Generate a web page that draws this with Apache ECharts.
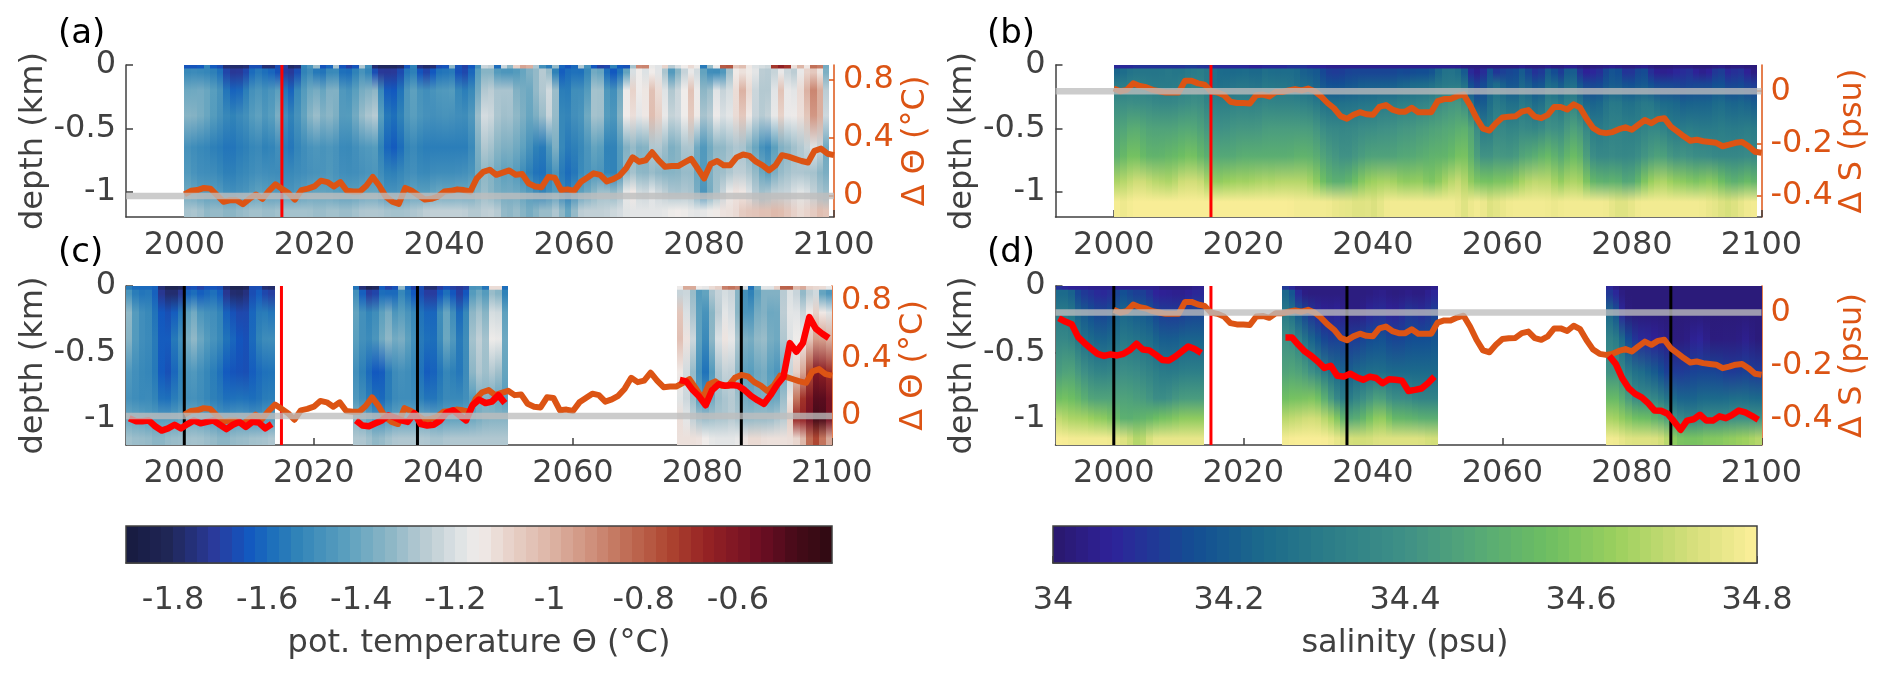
<!DOCTYPE html>
<html><head><meta charset="utf-8"><title>chart</title>
<script src="https://cdn.jsdelivr.net/npm/echarts@6/dist/echarts.min.js"></script>
<style>html,body{margin:0;background:#fff}#c{width:1892px;height:678px}</style></head>
<body><div id="c"></div>
<script>
// ---------- axis ticks ----------
const yearTicks=[2000,2020,2040,2060,2080,2100];
const depthTicks=[-1,-0.5,0];
const thetaTicks=[0,0.4,0.8];
const salTicks=[-0.4,-0.2,0];
const cbTempTicks=[-1.8,-1.6,-1.4,-1.2,-1,-0.8,-0.6];
const cbSalTicks=[34,34.2,34.4,34.6,34.8];
const scenarioYear=[2015];
const blackYears=[2000,2036,2086];
// depth (km) of each read-off row of the sections
const depthNodes=[0.012,0.06,0.2,0.4,0.65,0.85,1.0,1.15];
const depthNodesB=[0.012,0.06,0.15,0.3,0.5,0.72,0.92,1.08];

// ---------- delta series (2000..2100) ----------
const dTheta=[.01,.035,.04,.055,.05,.005,-.04,-.03,-.03,-.057,
-.02,.01,-.02,.035,.08,.05,.02,-.025,.04,.05,
.065,.105,.095,.065,.095,.035,.03,.03,.07,.13,
.07,-.005,-.04,-.055,.055,.035,.005,-.025,-.02,-.005,
.03,.035,.045,.04,.03,.12,.165,.18,.145,.16,
.175,.145,.15,.085,.065,.06,.13,.125,.04,.045,
.035,.095,.125,.155,.145,.1,.115,.14,.19,.265,
.235,.245,.3,.245,.2,.205,.205,.23,.255,.19,
.12,.22,.24,.21,.21,.265,.285,.275,.235,.21,
.175,.21,.28,.27,.255,.24,.23,.31,.325,.29,.28];
const dSal=[.01,0,.005,.03,.02,.015,.005,0,-.005,-.005,
-.005,.04,.04,.03,.025,0,-.005,-.015,-.04,-.045,
-.045,-.047,-.015,-.013,-.02,-.003,-.003,.003,.008,.003,
.01,0,-.02,-.045,-.065,-.095,-.105,-.09,-.08,-.088,
-.09,-.06,-.053,-.07,-.078,-.078,-.063,-.08,-.08,-.08,
-.038,-.03,-.03,-.019,-.012,-.053,-.103,-.143,-.15,-.122,
-.1,-.097,-.096,-.078,-.072,-.097,-.103,-.09,-.06,-.06,
-.07,-.05,-.063,-.105,-.14,-.156,-.16,-.156,-.145,-.138,
-.147,-.128,-.11,-.122,-.107,-.103,-.135,-.153,-.172,-.189,
-.185,-.191,-.194,-.197,-.21,-.204,-.197,-.194,-.21,-.231,-.235];
// red curves: values at half years, three time slices
const redStart=[1991.5,2026.5,2076.5];
const redThetaA=[-.015,-.035,-.035,-.03,-.07,-.1,-.085,-.06,-.085,-.055,-.03,-.05,-.04,-.03,-.06,-.09,-.06,-.04,-.075,-.04,-.045,-.085,-.055];
const redThetaB=[-.03,-.065,-.07,-.05,-.03,.005,-.01,-.03,-.04,.02,-.055,-.065,-.06,-.03,.025,.04,.005,-.03,.075,.115,.09,.1,.145,.09];
const redThetaC=[.25,.24,.18,.135,.075,.18,.22,.21,.215,.21,.18,.14,.11,.085,.145,.215,.27,.505,.445,.505,.685,.605,.57,.54];
const redSalA=[-.021,-.034,-.044,-.093,-.116,-.137,-.156,-.164,-.158,-.162,-.156,-.141,-.118,-.14,-.143,-.16,-.179,-.181,-.166,-.147,-.128,-.138,-.153];
const redSalB=[-.094,-.094,-.122,-.147,-.164,-.185,-.209,-.201,-.239,-.242,-.231,-.244,-.254,-.242,-.247,-.267,-.252,-.254,-.257,-.296,-.292,-.287,-.267,-.242];
const redSalC=[-.164,-.194,-.248,-.286,-.307,-.32,-.342,-.37,-.371,-.382,-.411,-.443,-.408,-.403,-.386,-.408,-.408,-.392,-.399,-.386,-.37,-.377,-.39,-.405];

// ---------- panel (a): -theta x100, 2000..2099 ----------
const tempA0=[165,165,165,150,165,165,178,178,178,178,165,165,178,178,165,170,180,180,150,150,
125,170,165,120,170,170,170,120,150,180,180,180,180,180,165,150,178,178,178,165,
170,125,170,170,165,150,120,120,170,115,140,105,95,95,130,150,160,125,165,165,
165,120,150,165,170,170,150,165,170,130,85,85,120,120,105,130,120,115,110,110,
165,130,120,75,75,110,100,115,120,120,130,65,65,65,120,95,120,80,80,145];
const tempA1=[152,150,152,152,155,155,172,172,172,170,158,155,160,160,165,172,172,170,150,148,
158,160,150,148,162,160,155,145,150,170,172,172,172,170,155,150,168,170,165,155,
160,150,170,168,165,140,135,130,150,145,148,145,142,135,135,125,125,160,165,158,
158,160,155,135,135,165,165,160,145,115,112,125,110,120,122,158,130,125,115,115,
148,150,150,150,130,110,112,115,115,130,125,128,110,125,130,115,108,105,105,145];
const tempA2=[140,140,138,140,145,145,160,162,162,155,148,145,150,150,135,162,165,150,145,140,
135,145,135,132,150,148,145,135,140,125,155,165,165,160,145,140,150,150,148,145,
148,140,155,155,155,138,125,125,130,130,125,140,135,145,130,130,118,125,165,155,
148,150,150,125,125,152,150,145,110,105,118,118,95,115,115,135,120,120,95,115,
140,135,110,130,120,115,90,112,125,128,128,125,90,125,118,112,100,85,90,135];
const tempA3=[135,135,138,140,145,148,152,155,150,150,145,140,148,148,128,155,155,148,142,135,
128,140,132,135,148,145,140,130,132,118,148,158,160,155,145,142,148,148,150,148,
148,148,150,150,150,130,118,122,130,132,128,135,135,145,135,135,118,128,160,152,
148,150,140,128,125,150,148,140,108,110,120,118,95,110,115,128,122,118,100,112,
135,130,108,125,118,112,100,115,125,128,125,120,100,122,115,112,108,88,92,130];
const tempA4=[148,150,152,152,155,155,158,158,155,155,152,150,155,155,145,158,158,152,150,148,
145,150,145,148,152,152,150,145,148,140,155,162,165,160,152,150,155,155,155,155,
155,155,155,155,155,135,125,130,135,138,135,140,142,148,155,158,150,125,160,155,
155,152,148,140,140,158,155,145,135,130,138,138,125,128,130,140,135,128,125,140,
150,138,132,135,130,128,128,135,140,148,155,142,135,135,130,128,125,118,118,145];
const tempA5=[145,148,150,150,150,152,155,155,152,152,150,148,150,150,150,152,152,150,150,148,
148,148,145,148,150,150,150,148,148,145,150,155,155,152,150,148,152,152,150,150,
150,150,150,148,150,138,132,135,140,145,140,145,150,155,158,160,155,140,160,160,
158,150,148,145,145,155,155,148,130,128,135,135,130,135,135,135,135,132,130,140,
150,135,130,132,128,125,125,128,132,140,148,135,132,130,128,128,130,128,135,138];
const tempA6=[140,142,145,145,145,145,150,150,148,148,145,142,145,145,145,148,148,145,145,142,
142,142,142,145,145,145,145,142,142,140,145,150,148,148,145,142,145,145,142,140,
142,142,140,142,140,135,130,135,138,140,138,140,142,145,150,155,150,140,155,158,
150,142,140,135,130,130,135,132,115,110,125,125,115,125,125,130,130,128,128,135,
155,135,130,125,115,112,112,120,128,132,130,125,125,125,120,118,120,125,130,132];
const tempA7=[130,128,130,135,132,132,135,135,132,132,130,130,132,132,130,130,130,130,130,130,
132,132,130,130,132,132,130,128,128,128,128,130,130,130,130,128,128,125,125,125,
125,125,125,125,128,128,125,125,125,135,135,130,135,140,135,130,135,125,132,148,
130,125,125,125,125,125,122,122,118,118,118,118,118,118,118,115,115,115,118,118,
118,115,115,112,112,112,105,105,105,102,105,100,102,105,108,112,108,108,100,105];

// ---------- panel (b): (salinity-34) x100, 2000..2099 ----------
const salB0=[8,8,8,10,10,10,10,10,10,10,10,12,12,10,10,8,8,8,8,8,8,6,6,8,8,8,8,10,10,10,8,8,6,5,5,5,5,5,5,5,
5,5,5,5,5,5,5,5,5,5,5,5,5,5,3,3,3,3,3,3,3,3,3,5,3,3,3,5,3,3,5,5,3,2,3,3,4,5,4,3,3,4,5,3,2,2,2,3,3,3,2,2,2,3,4,2,3,3,2,2];
const salB1=[22,25,28,28,28,28,28,28,30,28,28,30,30,32,30,25,24,24,24,24,25,24,22,28,24,25,25,25,25,20,20,20,14,12,12,12,14,14,14,14,
14,14,14,14,16,14,16,16,16,16,24,28,28,26,22,5,5,5,25,5,15,15,12,25,12,10,8,25,15,8,22,24,8,5,8,8,15,18,18,8,10,15,18,8,5,5,5,8,8,12,5,5,5,12,15,5,10,12,5,3];
const salB2=[30,30,32,32,32,30,30,30,30,30,32,32,34,34,30,26,26,26,28,28,28,28,26,30,28,28,28,28,26,24,24,22,18,16,16,16,18,18,20,20,
20,20,20,20,22,22,24,24,24,26,28,30,30,30,30,12,12,14,22,26,20,18,16,26,20,16,15,28,24,16,26,28,16,14,14,14,18,20,20,16,16,18,20,16,14,14,14,14,12,14,14,14,14,16,18,12,14,16,12,12];
const salB3=[38,38,40,38,38,38,36,36,36,36,38,38,40,40,34,32,32,32,33,34,33,33,33,36,34,34,34,34,34,33,32,30,26,26,26,26,27,27,28,28,
28,30,30,30,32,32,32,34,34,36,38,40,42,42,42,25,18,18,26,32,28,26,24,32,28,24,24,36,32,26,34,36,28,22,22,22,28,30,30,26,26,28,30,30,26,24,24,24,20,22,22,22,22,24,26,22,22,24,22,20];
const salB4=[45,46,50,50,48,46,46,46,46,46,48,48,48,46,42,40,40,40,42,42,42,42,42,44,44,44,44,44,44,44,44,42,38,36,36,35,36,36,38,38,
38,40,40,40,42,42,42,44,44,46,46,48,48,50,52,48,38,28,30,38,36,34,34,38,36,34,36,42,40,36,44,46,44,36,30,30,32,34,34,32,32,32,34,36,36,34,30,30,30,32,30,30,30,30,32,30,30,30,32,30];
const salB5=[50,54,58,58,54,52,52,52,54,54,56,58,58,54,50,48,48,48,48,50,50,50,50,50,50,50,50,50,52,52,52,50,46,44,42,40,40,42,44,46,
46,46,46,46,48,48,48,50,50,52,52,52,54,58,60,52,44,40,40,44,42,42,42,48,48,50,52,56,52,46,54,56,54,44,38,36,36,38,36,36,36,38,42,44,46,46,42,40,42,40,38,38,38,36,36,36,36,36,38,36];
const salB6=[66,68,70,72,72,70,68,68,66,68,72,72,72,72,66,62,62,64,64,66,64,66,66,68,66,68,68,68,68,68,66,62,56,52,50,50,52,56,60,64,
64,66,66,66,62,62,62,64,60,58,62,66,68,72,68,62,58,58,56,60,58,60,62,66,68,70,68,70,66,60,68,66,68,58,52,52,50,52,52,46,48,52,60,64,66,68,64,62,62,60,58,60,62,60,56,52,50,52,56,52];
const salB7=[79,76,79,79,79,79,79,79,79,79,79,79,79,79,79,79,79,79,79,79,79,79,79,79,79,79,79,79,78,78,78,78,78,78,76,76,76,74,74,76,
72,76,78,78,78,78,78,78,78,78,78,78,78,78,72,78,78,78,72,76,76,78,78,78,78,78,78,78,76,78,78,78,78,78,78,78,78,76,74,74,76,78,78,78,78,78,78,78,78,78,78,78,76,76,74,72,74,76,78,78];

// ---------- panel (c): -theta x100, three slices ----------
const tempC1a=[155,160,160,160,160,178,182,182,182,165,165,170,165,165,165,178,182,182,182,165,165,178,178];
const tempC1b=[145,158,158,155,160,175,178,178,175,158,158,165,160,158,160,175,178,178,178,165,160,170,170];
const tempC1c=[130,148,150,150,158,165,168,162,160,140,135,150,148,150,150,165,165,168,170,160,155,155,158];
const tempC1d=[132,148,150,150,155,165,165,155,152,135,130,142,145,148,150,160,160,165,168,160,152,150,150];
const tempC1e=[145,150,152,152,155,165,168,160,155,145,145,150,152,155,158,165,165,165,168,162,160,158,158];
const tempC1f=[148,150,152,150,152,160,160,155,152,148,148,150,152,155,155,160,158,158,158,160,158,155,155];
const tempC1g=[140,142,142,145,145,145,145,145,142,140,140,142,142,145,148,148,145,145,145,148,148,145,145];
const tempC1h=[130,132,132,132,135,135,132,132,132,130,130,130,132,132,135,135,132,132,132,130,130,130,128];
const tempC2a=[155,178,182,182,160,170,170,125,165,170,165,178,178,170,165,170,172,172,145,145,165,105,105,165];
const tempC2b=[145,165,172,172,155,160,165,145,160,165,165,172,172,165,155,165,172,170,140,135,155,125,130,160];
const tempC2c=[140,150,155,150,145,130,155,138,150,150,160,160,165,150,135,150,165,155,130,125,145,115,115,150];
const tempC2d=[142,150,152,148,140,128,145,132,145,148,158,158,162,152,135,145,160,155,125,120,140,110,108,148];
const tempC2e=[148,155,160,165,165,155,150,148,150,152,158,165,162,158,150,155,158,155,130,125,135,125,128,145];
const tempC2f=[145,150,155,160,162,155,150,150,150,150,155,158,158,155,150,152,152,150,145,135,135,138,140,145];
const tempC2g=[135,138,142,148,150,145,142,142,142,142,140,140,142,145,142,142,142,142,140,138,135,135,135,135];
const tempC2h=[128,128,130,135,132,130,128,128,128,128,128,128,130,130,128,128,128,128,128,128,128,128,128,128];
const tempC3a=[118,95,95,118,118,110,110,85,85,85,120,165,140,115,120,110,78,78,105,95,110,110,110,118];
const tempC3b=[125,120,130,150,145,125,125,120,120,135,150,160,140,135,135,140,125,118,120,140,125,112,150,145];
const tempC3c=[100,125,125,145,155,130,128,115,118,135,150,150,135,135,140,145,122,118,115,130,112,105,115,120];
const tempC3d=[100,115,118,145,160,130,120,110,115,130,138,140,132,130,138,145,125,120,112,120,105,90,95,100];
const tempC3e=[112,122,130,150,165,145,125,125,122,135,145,145,140,135,145,150,140,125,105,100,75,55,65,70];
const tempC3f=[118,122,130,145,150,138,130,130,125,130,140,140,138,135,142,142,132,118,80,70,62,48,50,60];
const tempC3g=[110,118,125,130,132,130,128,130,125,128,135,132,132,132,132,128,128,120,48,75,55,45,46,60];
const tempC3h=[112,112,112,112,115,118,118,118,118,118,112,110,110,112,112,112,112,112,110,105,80,70,85,100];

// ---------- panel (d): (salinity-34) x100, three slices ----------
const salD1a=[10,8,6,6,6,5,5,5,5,5,5,5,5,5,5,5,3,3,3,3,3,5,5];
const salD1b=[24,24,24,12,12,10,8,8,8,14,18,14,12,14,10,6,6,6,5,5,6,8,8];
const salD1c=[30,30,30,20,20,16,14,14,14,22,24,22,20,20,18,14,12,12,12,12,14,14,14];
const salD1d=[36,36,36,28,26,24,22,22,22,28,30,28,28,26,26,22,20,20,20,22,22,22,22];
const salD1e=[44,46,48,42,40,36,34,34,34,38,40,38,38,36,34,32,30,30,30,32,32,32,32];
const salD1f=[56,58,56,54,50,46,46,46,46,46,46,46,44,44,42,38,38,40,42,44,44,44,44];
const salD1g=[70,68,66,66,66,64,62,62,60,54,50,50,52,52,54,56,58,58,60,62,62,62,62];
const salD1h=[79,79,78,78,78,78,78,78,78,76,74,72,66,68,74,76,76,76,76,76,76,76,76];
const salD2a=[12,8,3,3,3,3,3,3,3,3,3,3,3,3,3,3,3,3,3,3,3,3,3,5];
const salD2b=[24,20,6,3,3,3,3,3,3,3,3,3,3,3,4,5,3,3,3,5,3,3,5,8];
const salD2c=[30,28,18,14,10,8,6,5,8,4,3,3,4,8,8,10,6,6,8,12,10,8,10,14];
const salD2d=[40,40,32,28,22,18,14,12,14,12,12,12,14,16,16,18,14,14,14,16,16,16,16,18];
const salD2e=[46,48,46,44,40,36,30,26,24,22,20,24,24,26,26,26,24,24,24,24,24,24,24,24];
const salD2f=[56,58,58,58,60,58,50,44,36,30,30,36,38,42,46,46,40,38,38,38,34,34,34,34];
const salD2g=[68,70,70,72,72,72,68,66,60,52,46,50,52,58,62,64,58,52,54,52,52,50,50,50];
const salD2h=[78,79,79,79,79,79,79,78,76,74,72,72,72,72,74,74,74,74,74,74,74,74,72,72];
const salD3a=[8,4,2,2,2,2,2,2,2,2,2,2,2,2,2,2,2,2,2,2,2,2,2,2];
const salD3b=[12,8,2,2,2,2,2,2,2,2,2,2,2,2,2,2,2,2,2,2,2,2,2,2];
const salD3c=[24,20,5,2,2,2,2,2,2,2,2,2,2,2,2,2,2,2,2,2,2,2,2,2];
const salD3d=[34,32,24,14,10,8,8,6,5,4,2,3,3,6,8,4,2,3,3,3,3,6,3,2];
const salD3e=[40,42,36,30,26,26,22,20,16,12,12,12,12,14,14,14,14,14,12,12,12,14,12,12];
const salD3f=[54,56,50,44,38,36,38,36,32,28,24,22,22,22,24,24,24,24,24,26,26,26,24,24];
const salD3g=[66,66,62,60,56,56,56,52,50,46,40,36,34,34,36,38,38,38,38,40,40,40,40,40];
const salD3h=[78,78,76,74,74,74,74,74,72,70,60,58,58,58,58,60,60,60,62,62,64,64,66,68];
const sliceStart=[1991,2026,2076];

// ---------- colour maps ----------
const balanceStops=[[0,'#171a3f'],[.06,'#1f2656'],[.126,'#2a3a9c'],[.172,'#1257bf'],[.207,'#1d6fbb'],[.24,'#2f82b8'],[.31,'#5a9fbe'],[.37,'#8ab5c5'],[.427,'#bccdd4'],[.473,'#dfe3e5'],[.5,'#f0ecea'],[.54,'#e8d4cc'],[.6,'#ddb5a6'],[.66,'#cf8f7b'],[.715,'#be6a52'],[.77,'#ad4430'],[.82,'#972324'],[.9,'#6c0d23'],[.95,'#450b18'],[1,'#2e0a12']];
const halineStops=[[0,'#2a186c'],[.083,'#2e2299'],[.2,'#134e93'],[.3,'#1c6a8b'],[.4,'#2d7f88'],[.5,'#3f9086'],[.6,'#55a877'],[.7,'#6dbe62'],[.8,'#9bd05e'],[.9,'#d2de79'],[1,'#fdef9a']];
const hex=h=>[1,3,5].map(i=>parseInt(h.substr(i,2),16));
function cmap(stops,t){t=Math.max(0,Math.min(1,t));
  for(let i=1;i<stops.length;i++){if(t<=stops[i][0]){const a=stops[i-1],b=stops[i],f=(t-a[0])/(b[0]-a[0]),A=hex(a[1]),B=hex(b[1]);
    return 'rgb('+A.map((v,k)=>Math.round(v+(B[k]-v)*f)).join(',')+')';}}
  return stops[stops.length-1][1];}
const tempColor=v=>cmap(balanceStops,(v+1.9)/1.5);
const salColor=v=>cmap(halineStops,(v-34)/0.8);
const decT=v=>-v/100, decS=v=>34+v/100;

// ---------- helpers ----------
const ORANGE='#dc5414',INK='#404040',FONT='DejaVu Sans',FS=32;
// the source picture is a resampled raster: neighbouring years bleed into each other on screen
function columns(rows,start,step,dec,colorFn){
  const out=[];const n=rows[0].length;
  for(let i=0;i<n;i++){
    const vals=rows.map((r,k)=>{const p=r[Math.max(i-1,0)],q=r[i],s=r[Math.min(i+1,n-1)];
      const w=k===0?0.1:0.2;return colorFn(dec(q*(1-2*w)+(p+s)*w));});
    out.push({x0:start+i*step,x1:start+(i+1)*step,vals});}
  return out;}
function heatSeries(cols,gi,nodes){
  return {type:'custom',coordinateSystem:'cartesian2d',xAxisIndex:gi,yAxisIndex:gi*2,silent:true,z:1,clip:true,
    encode:{x:[0,1],y:2},data:cols.map(c=>[c.x0,c.x1,-0.6]),
    renderItem:(p,api)=>{const c=cols[p.dataIndex];
      const a=api.coord([c.x0,0]),b=api.coord([c.x1,-1.2]);
      const H=1.2;const stops=[{offset:0,color:c.vals[0]},{offset:.025/H,color:c.vals[0]},{offset:.03/H,color:c.vals[1]}];
      for(let k=1;k<nodes.length;k++)stops.push({offset:nodes[k]/H,color:c.vals[k]});
      stops.push({offset:1,color:c.vals[c.vals.length-1]});
      const x=Math.round(a[0]),w=Math.round(b[0])-x;
      return {type:'rect',shape:{x,y:a[1],width:w,height:b[1]-a[1]},
        style:{fill:new echarts.graphic.LinearGradient(0,0,0,1,stops)}};}};
}
const line=(data,gi,right,color,width,z,extra)=>Object.assign({type:'line',xAxisIndex:gi,yAxisIndex:gi*2+(right?1:0),data,showSymbol:false,symbol:'none',silent:true,z,
  lineStyle:{color,width,join:'round',cap:'butt'},animation:false},extra||{});
const pairs=(start,vals)=>vals.map((v,i)=>[start+i,v]);
const grids=[
 {left:126,top:65,width:708,height:152},
 {left:1055.5,top:65,width:706,height:152},
 {left:126,top:286,width:706,height:159},
 {left:1055.5,top:286,width:706,height:159},
 {left:126,top:526,width:706,height:37},
 {left:1053,top:526,width:704,height:37}];
const xAxes=[],yAxes=[];
const rightCfg=[
 {min:-.145,max:.9,ticks:thetaTicks,name:'\u0394 \u0398 (\u00b0C)',gap:66},
 {min:-.48,max:.1,ticks:salTicks,name:'\u0394 S (psu)',gap:75},
 {min:-.2,max:.9,ticks:thetaTicks,name:'\u0394 \u0398 (\u00b0C)',gap:66},
 {min:-.5,max:.1,ticks:salTicks,name:'\u0394 S (psu)',gap:75}];
for(let g=0;g<4;g++){
  xAxes.push({type:'value',gridIndex:g,min:1991,max:2100,position:'bottom',splitLine:{show:false},
    axisLine:{onZero:false,lineStyle:{color:INK,width:1.5}},
    axisTick:{inside:true,length:7,customValues:yearTicks,lineStyle:{color:INK,width:1.5}},
    axisLabel:{customValues:yearTicks,formatter:v=>String(v),color:INK,fontFamily:FONT,fontSize:FS,margin:13}});
  yAxes.push({type:'value',gridIndex:g,min:-1.2,max:0,position:'left',splitLine:{show:false},
    name:'depth (km)',nameLocation:'middle',nameRotate:90,nameGap:76,nameTextStyle:{color:INK,fontFamily:FONT,fontSize:FS},
    axisLine:{show:true,onZero:false,lineStyle:{color:INK,width:1.5}},
    axisTick:{show:true,inside:true,length:7,customValues:depthTicks,lineStyle:{color:INK,width:1.5}},
    axisLabel:{customValues:depthTicks,formatter:v=>String(v),color:INK,fontFamily:FONT,fontSize:FS,margin:10}});
  const r=rightCfg[g];
  yAxes.push({type:'value',gridIndex:g,min:r.min,max:r.max,position:'right',splitLine:{show:false},alignTicks:false,
    name:r.name,nameLocation:'middle',nameRotate:90,nameGap:r.gap,nameTextStyle:{color:ORANGE,fontFamily:FONT,fontSize:FS},
    axisLine:{show:true,onZero:false,lineStyle:{color:ORANGE,width:1.5}},
    axisTick:{show:true,inside:true,length:7,customValues:r.ticks,lineStyle:{color:ORANGE,width:1.5}},
    axisLabel:{customValues:r.ticks,formatter:v=>String(v),color:ORANGE,fontFamily:FONT,fontSize:FS,margin:9}});
}
const cbAxis=(g,min,max,ticks,name)=>({type:'value',gridIndex:g,min,max,position:'bottom',splitLine:{show:false},
  name,nameLocation:'middle',nameGap:65,nameTextStyle:{color:INK,fontFamily:FONT,fontSize:FS},
  axisLine:{onZero:false,lineStyle:{color:INK,width:1.5}},
  axisTick:{inside:true,length:7,customValues:ticks,lineStyle:{color:INK,width:1.5}},
  axisLabel:{customValues:ticks,formatter:v=>String(v),color:INK,fontFamily:FONT,fontSize:FS,margin:22}});
xAxes.push(cbAxis(4,-1.9,-0.4,cbTempTicks,'pot. temperature \u0398 (\u00b0C)'));
xAxes.push(cbAxis(5,34,34.8,cbSalTicks,'salinity (psu)'));
yAxes.push({type:'value',gridIndex:4,min:0,max:1,show:false});
yAxes.push({type:'value',gridIndex:5,min:0,max:1,show:false});

function cbSeries(g,min,max,n,colorFn,xi,yi){
  const cells=[];for(let i=0;i<n;i++)cells.push([min+(max-min)*i/n,min+(max-min)*(i+1)/n,0.5]);
  return {type:'custom',coordinateSystem:'cartesian2d',xAxisIndex:xi,yAxisIndex:yi,silent:true,z:1,encode:{x:[0,1],y:2},data:cells,
   renderItem:(p,api)=>{const a=api.coord([api.value(0),1]),b=api.coord([api.value(1),0]);const x=Math.round(a[0]);
    return {type:'rect',shape:{x,y:a[1],width:Math.round(b[0])-x,height:b[1]-a[1]},style:{fill:colorFn((api.value(0)+api.value(1))/2)}};}};
}
const series=[];
series.push(heatSeries(columns([tempA0,tempA1,tempA2,tempA3,tempA4,tempA5,tempA6,tempA7],2000,.993,decT,tempColor),0,depthNodes));
series.push(heatSeries(columns([salB0,salB1,salB2,salB3,salB4,salB5,salB6,salB7],2000,.993,decS,salColor),1,depthNodesB));
const cRows=[[tempC1a,tempC1b,tempC1c,tempC1d,tempC1e,tempC1f,tempC1g,tempC1h],[tempC2a,tempC2b,tempC2c,tempC2d,tempC2e,tempC2f,tempC2g,tempC2h],[tempC3a,tempC3b,tempC3c,tempC3d,tempC3e,tempC3f,tempC3g,tempC3h]];
const dRows=[[salD1a,salD1b,salD1c,salD1d,salD1e,salD1f,salD1g,salD1h],[salD2a,salD2b,salD2c,salD2d,salD2e,salD2f,salD2g,salD2h],[salD3a,salD3b,salD3c,salD3d,salD3e,salD3f,salD3g,salD3h]];
cRows.forEach((r,i)=>series.push(heatSeries(columns(r,sliceStart[i],1,decT,tempColor),2,depthNodes)));
dRows.forEach((r,i)=>series.push(heatSeries(columns(r,sliceStart[i],1,decS,salColor),3,depthNodes)));
// vertical reference lines
for(let g=0;g<4;g++){scenarioYear.forEach(y=>series.push(line([[y,-1.2],[y,0]],g,false,'#ff0000',3,3)));}
for(let g=2;g<4;g++){blackYears.forEach(y=>series.push(line([[y,-1.2],[y,0]],g,false,'#000000',3,3)));}
// delta curves
[[0,dTheta],[1,dSal],[2,dTheta],[3,dSal]].forEach(([g,d])=>series.push(line(pairs(2000,d),g,true,ORANGE,6,4)));
[[redThetaA,redThetaB,redThetaC],[redSalA,redSalB,redSalC]].forEach((set,k)=>{
  set.forEach((vals,i)=>series.push(line(pairs(redStart[i],vals),k+2,true,'#ff0000',6.5,5)));});
// zero lines
for(let g=0;g<4;g++){series.push(line([[1991,0],[2100,0]],g,true,'rgba(190,190,190,0.78)',6.5,6));}
series.push(cbSeries(4,-1.9,-0.4,60,tempColor,4,8));
series.push(cbSeries(5,34,34.8,60,salColor,5,9));

const label=(t,x,y)=>({type:'text',left:x,top:y,silent:true,z:20,style:{text:t,fill:'#000',font:'34px "DejaVu Sans"'}});
const frame=(g)=>({type:'rect',silent:true,z:20,shape:{x:g.left,y:g.top,width:g.width,height:g.height},style:{fill:'none',stroke:INK,lineWidth:1.5}});
const chart=echarts.init(document.getElementById('c'),null,{renderer:'canvas'});
chart.setOption({animation:false,backgroundColor:'#fff',textStyle:{fontFamily:FONT},
  grid:grids,xAxis:xAxes,yAxis:yAxes,series,
  graphic:[label('(a)',58,17),label('(b)',987,17),label('(c)',58,236),label('(d)',987,236),frame(grids[4]),frame(grids[5])]});
</script></body></html>
